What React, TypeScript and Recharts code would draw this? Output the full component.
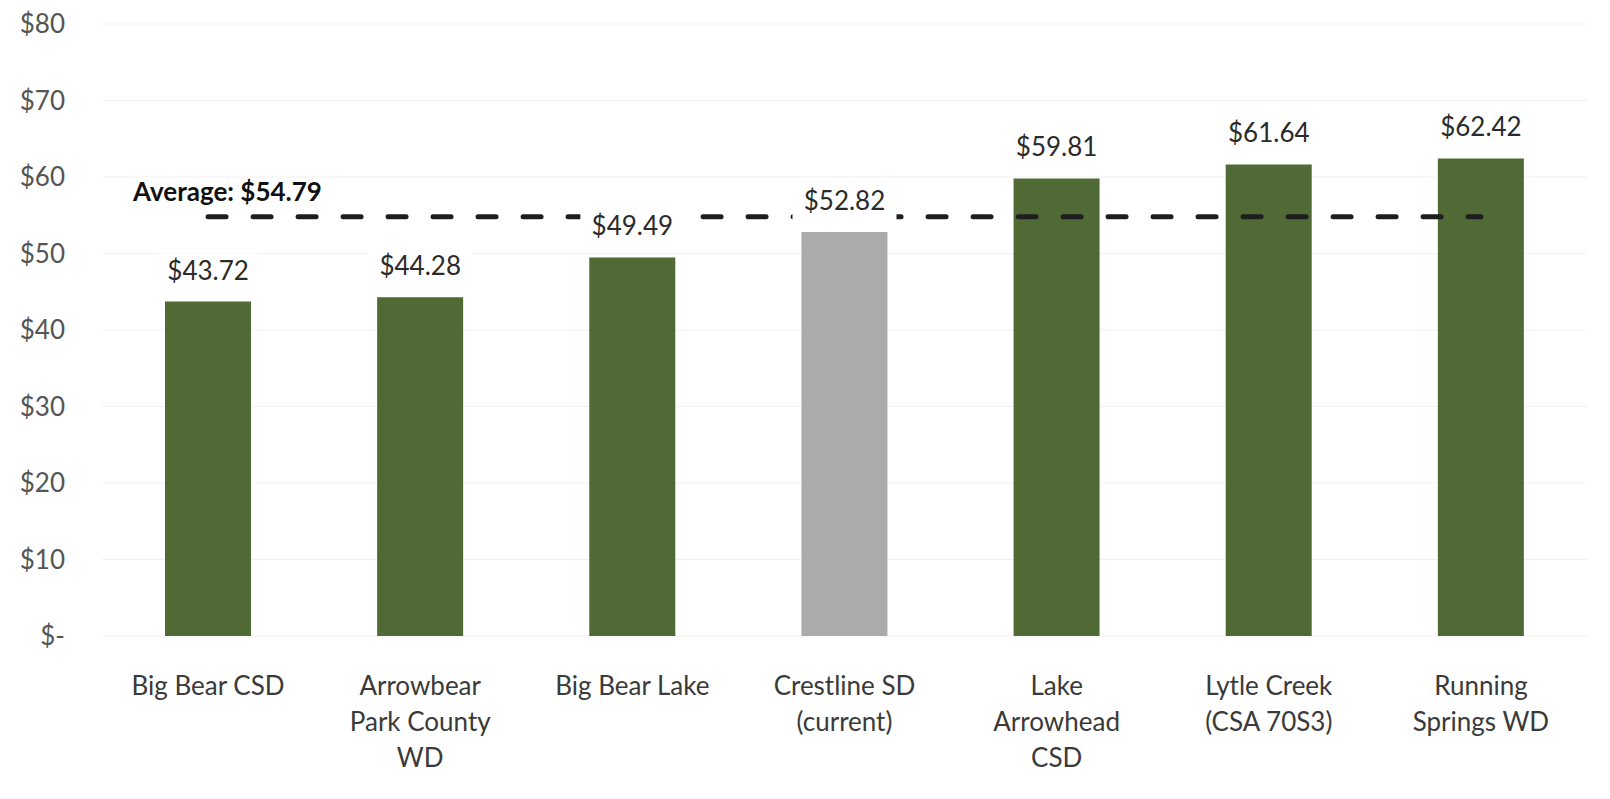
import React from "react";
import {
  ComposedChart,
  Bar,
  Line,
  Cell,
  XAxis,
  YAxis,
  CartesianGrid,
  LabelList
} from "recharts";

const categories = [
  "Big Bear CSD",
  "Arrowbear\nPark County\nWD",
  "Big Bear Lake",
  "Crestline SD\n(current)",
  "Lake\nArrowhead\nCSD",
  "Lytle Creek\n(CSA 70S3)",
  "Running\nSprings WD"
];

const rates = [43.72, 44.28, 49.49, 52.82, 59.81, 61.64, 62.42];

const averageRate = 54.79;

const yTicks = [0, 10, 20, 30, 40, 50, 60, 70, 80];

const currentCategory = "Crestline SD\n(current)";

const data = categories.map((name, i) => ({
  name,
  rate: rates[i],
  average: averageRate
}));

const FONT = "Lato, 'Open Sans', sans-serif";
const GREEN = "#4f6a34";
const GRAY = "#ababab";

const money = (v: number) => (v === 0 ? "$-" : `$${v}`);

function CategoryTick(props: any) {
  const { x, y, payload } = props;
  const lines = String(payload.value).split("\n");
  return (
    <text
      x={x}
      y={y}
      textAnchor="middle"
      fill="#3a3a3a"
      fontSize={26}
      fontFamily={FONT}
    >
      {lines.map((line, i) => (
        <tspan key={i} x={x} dy={i === 0 ? 57 : 36}>
          {line}
        </tspan>
      ))}
    </text>
  );
}

// value labels sit on a white box so the dashed average line breaks around them
function ValueLabel(props: any) {
  const { x, y, value } = props;
  if (x == null || y == null) return null;
  const text = `$${Number(value).toFixed(2)}`;
  return (
    <g>
      <rect x={x - 52} y={y - 48} width={104} height={40} fill="#ffffff" />
      <text
        x={x}
        y={y - 22}
        textAnchor="middle"
        fill="#2b2b2b"
        fontSize={26}
        fontFamily={FONT}
      >
        {text}
      </text>
    </g>
  );
}

function AverageLabel(props: any) {
  const { x, y, index } = props;
  if (index !== 0) return null;
  return (
    <text
      x={x - 75}
      y={y - 16}
      fill="#111111"
      fontSize={26}
      fontWeight={700}
      fontFamily={FONT}
    >
      {`Average: $${averageRate.toFixed(2)}`}
    </text>
  );
}

export default function App() {
  return (
    <div style={{ width: 1594, height: 791, background: "#ffffff" }}>
      <ComposedChart
        width={1594}
        height={791}
        data={data}
        margin={{ top: 16, right: 15, bottom: 0, left: 0 }}
      >
        <CartesianGrid vertical={false} stroke="#f1f1f1" />
        <XAxis
          dataKey="name"
          axisLine={false}
          tickLine={false}
          tickSize={0}
          height={163}
          interval={0}
          tick={<CategoryTick />}
        />
        <YAxis
          domain={[0, 80]}
          ticks={yTicks}
          axisLine={false}
          tickLine={false}
          tickSize={0}
          tickMargin={37}
          width={94}
          tickFormatter={money}
          tick={{ fill: "#555555", fontSize: 26, fontFamily: FONT }}
        />
        <Bar dataKey="rate" barSize={86} isAnimationActive={false}>
          {data.map((d) => (
            <Cell key={d.name} fill={d.name === currentCategory ? GRAY : GREEN} />
          ))}
        </Bar>
        <Line
          dataKey="average"
          stroke="#1e1e1e"
          strokeWidth={5}
          strokeDasharray="18 27"
          strokeLinecap="round"
          dot={false}
          activeDot={false}
          isAnimationActive={false}
        >
          <LabelList dataKey="average" content={<AverageLabel />} />
        </Line>
        <Line
          dataKey="rate"
          stroke="none"
          dot={false}
          activeDot={false}
          isAnimationActive={false}
        >
          <LabelList dataKey="rate" content={<ValueLabel />} />
        </Line>
      </ComposedChart>
    </div>
  );
}
